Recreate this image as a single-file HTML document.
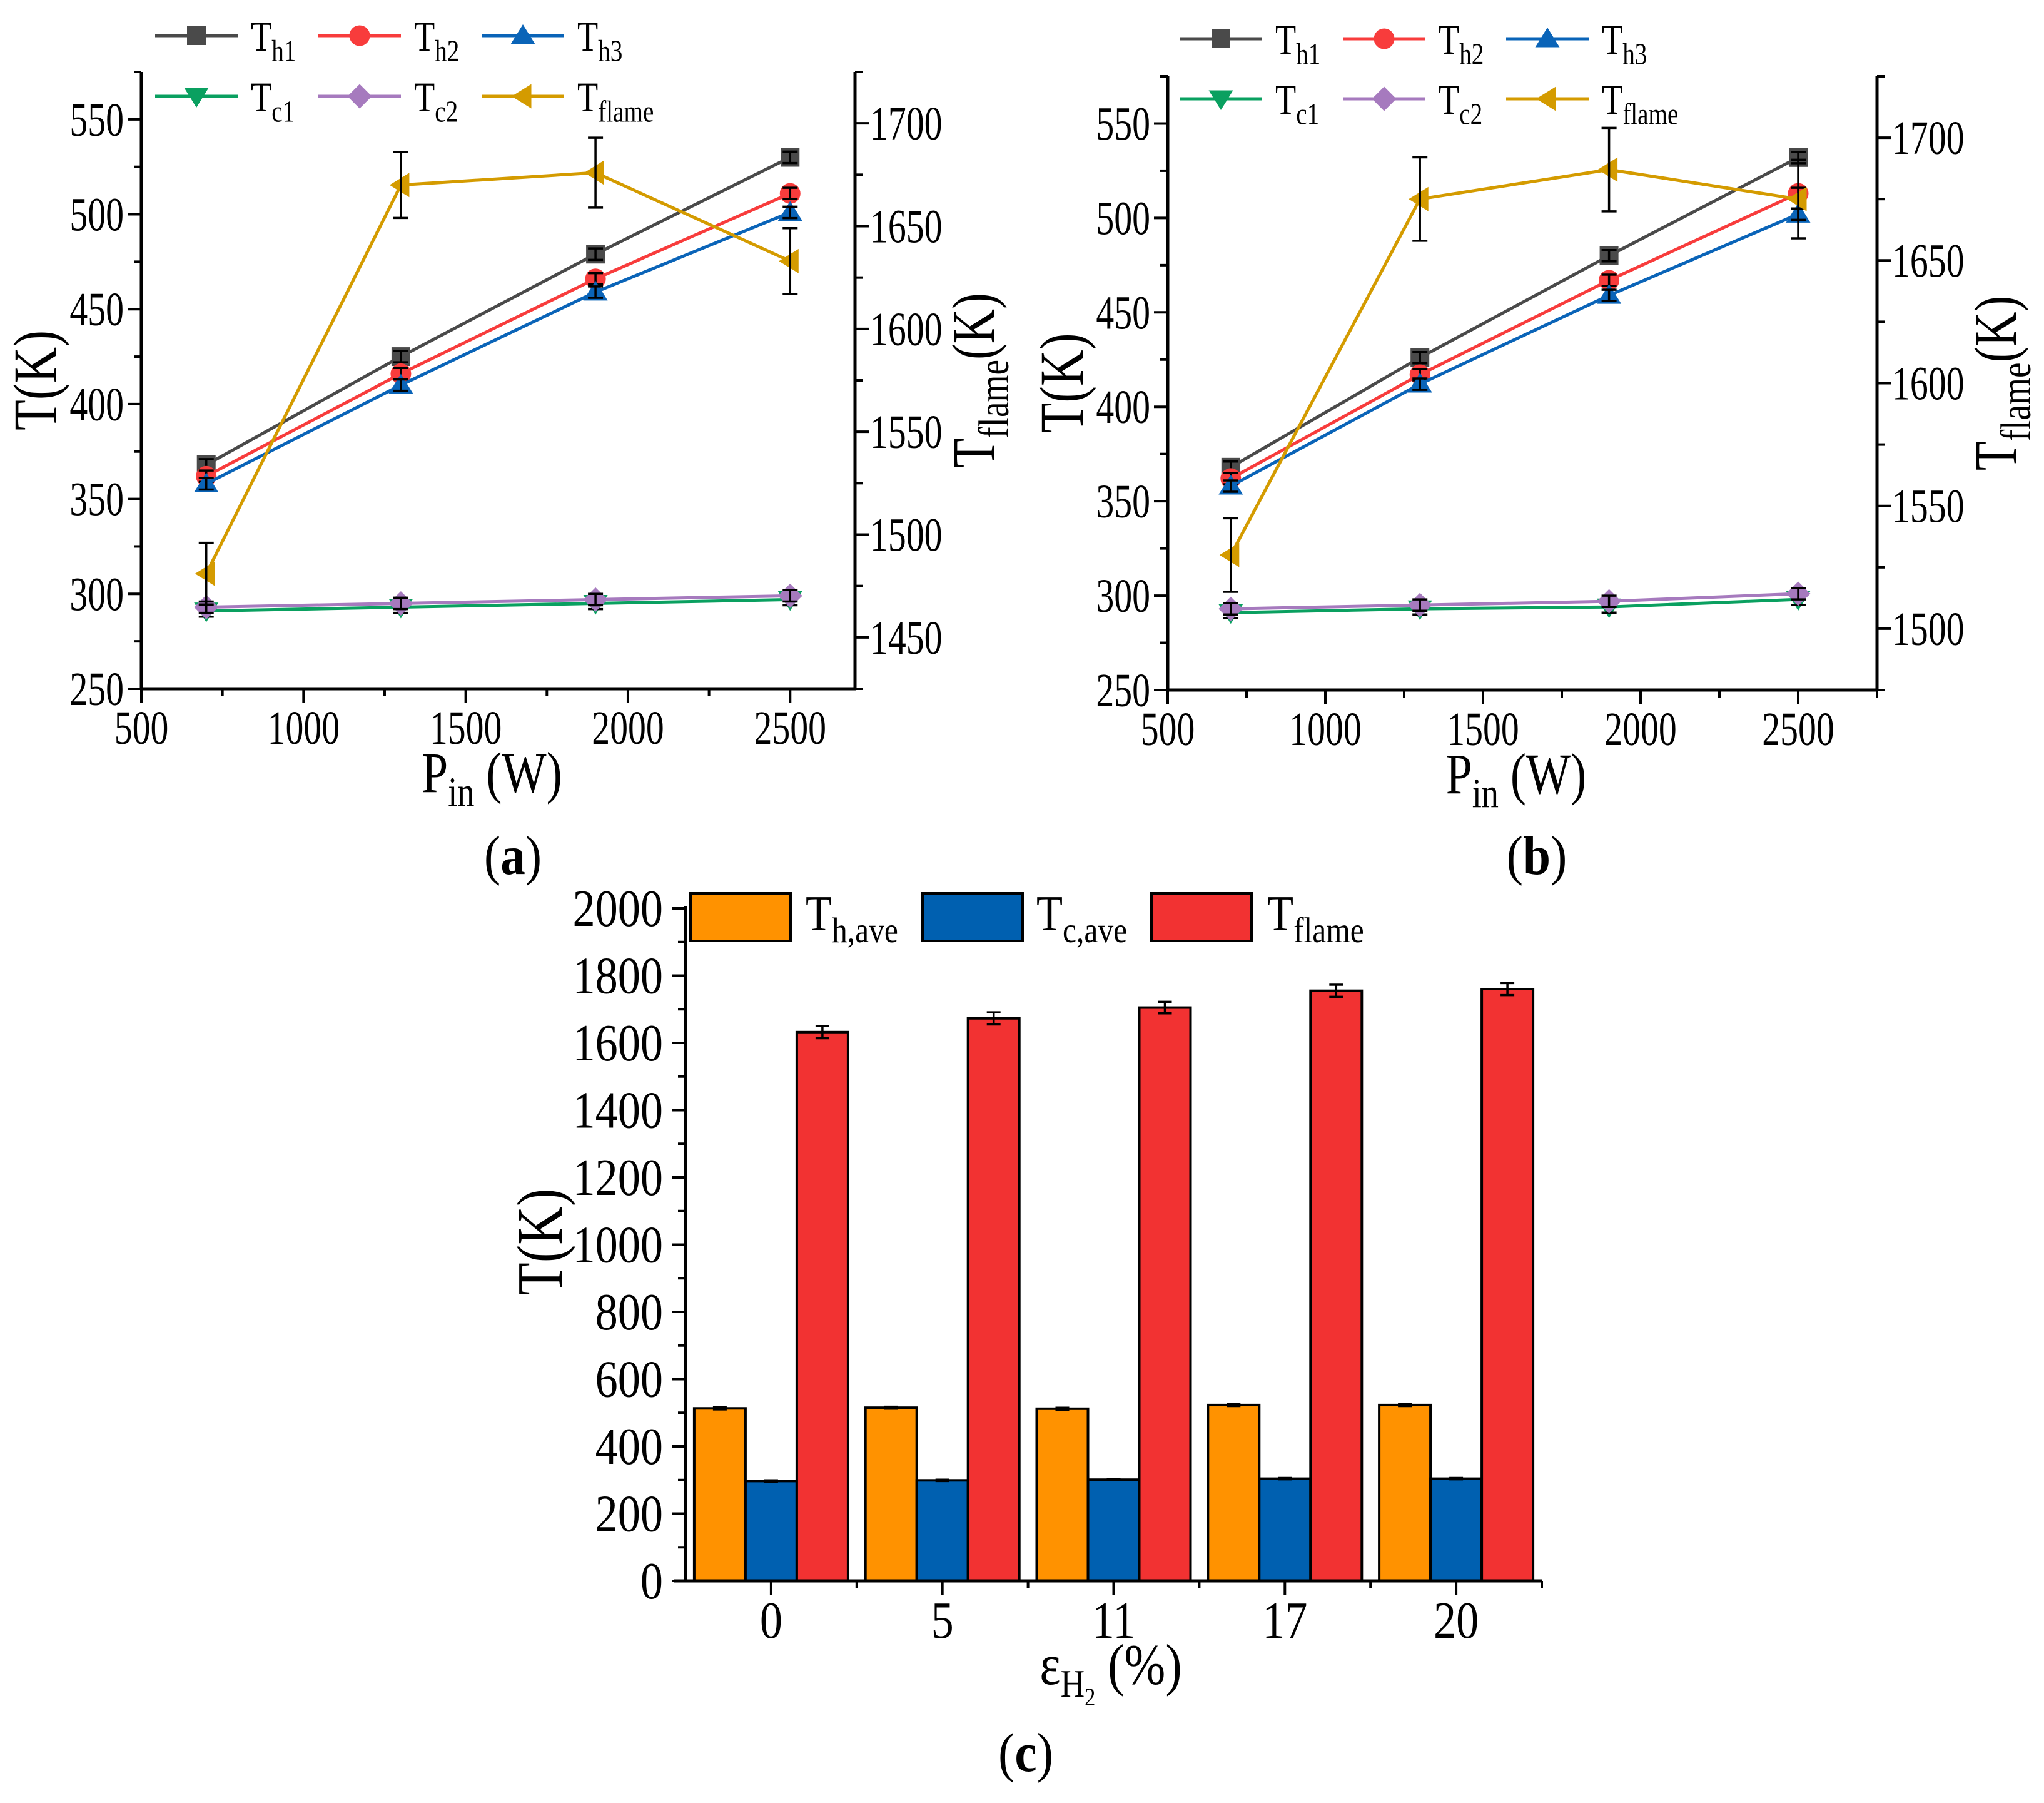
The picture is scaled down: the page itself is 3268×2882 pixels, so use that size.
<!DOCTYPE html>
<html><head><meta charset="utf-8"><style>
html,body{margin:0;padding:0;background:#fff}
svg{display:block}
text{font-family:"Liberation Serif","Times New Roman",serif;fill:#000}
</style></head><body>
<svg id="fig" xmlns="http://www.w3.org/2000/svg" width="3268" height="2882" viewBox="0 0 3268 2882">
<rect width="3268" height="2882" fill="#fff"/>
</svg>
<script>
// ---------- data ----------
const pIn = [700, 1300, 1900, 2500];
const aTh1 = [368, 425, 479, 530];
const aTh2 = [362, 416, 466, 511];
const aTh3 = [358, 410, 459, 501];
const aTc1 = [291, 293, 295, 297];
const aTc2 = [293, 295, 297, 299];
const aTflame = [1481, 1670, 1676, 1633];
const aTflameErr = [15, 16, 17, 16];
const bTh1 = [368, 426, 480, 532];
const bTh2 = [362, 417, 467, 513];
const bTh3 = [358, 412, 459, 502];
const bTc1 = [291, 293, 294, 298];
const bTc2 = [293, 295, 297, 301];
const bTflame = [1530, 1675, 1687, 1675];
const bTflameErr = [15, 17, 17, 16];
const smallErr = [3, 3, 3, 3];
const leftTicks = [250, 300, 350, 400, 450, 500, 550];
const xTicks = [500, 1000, 1500, 2000, 2500];
const aRightTicks = [1450, 1500, 1550, 1600, 1650, 1700];
const bRightTicks = [1500, 1550, 1600, 1650, 1700];
const cCats = ['0', '5', '11', '17', '20'];
const cTh = [513, 515, 512, 523, 523];
const cTc = [297, 299, 301, 304, 304];
const cTflame = [1632, 1673, 1705, 1755, 1760];
const cThErr = [3, 3, 3, 3, 3];
const cTcErr = [2, 2, 2, 2, 2];
const cTflameErr = [18, 18, 17, 18, 18];
const cTicks = [0, 200, 400, 600, 800, 1000, 1200, 1400, 1600, 1800, 2000];

const NS = 'http://www.w3.org/2000/svg';
const svg = document.getElementById('fig');
function el(tag, attrs, parent) {
  const e = document.createElementNS(NS, tag);
  for (const k in attrs) e.setAttribute(k, attrs[k]);
  (parent || svg).appendChild(e);
  return e;
}
function line(g, x1, y1, x2, y2, stroke, w) {
  return el('line', {x1, y1, x2, y2, stroke, 'stroke-width': w}, g);
}
function txt(g, x, y, html, size, anchor, sx, rot, name) {
  const tr = 'translate(' + x + ',' + y + ')' + (rot ? ' rotate(' + rot + ')' : '') + ' scale(' + sx + ',1)';
  const t = el('text', {x: 0, y: 0, 'font-size': size, 'text-anchor': anchor, transform: tr}, g);
  t.innerHTML = html;
  
  
  return t;
}
function sub(main, s, size) {
  return main + '<tspan font-size="' + (size * 0.72) + '" dy="' + (size * 0.24) + '">' + s + '</tspan>';
}
function marker(g, type, cx, cy, color, r) {
  let e;
  if (type === 'square') e = el('rect', {x: cx - r, y: cy - r, width: 2 * r, height: 2 * r, fill: color}, g);
  else if (type === 'circle') e = el('circle', {cx, cy, r: r * 1.1, fill: color}, g);
  else if (type === 'up') e = el('polygon', {points: [cx, cy - r * 1.2, cx + r * 1.3, cy + r * 0.9, cx - r * 1.3, cy + r * 0.9].join(' '), fill: color}, g);
  else if (type === 'down') e = el('polygon', {points: [cx, cy + r * 1.2, cx + r * 1.3, cy - r * 0.9, cx - r * 1.3, cy - r * 0.9].join(' '), fill: color}, g);
  else if (type === 'diamond') e = el('polygon', {points: [cx, cy - r * 1.3, cx + r * 1.3, cy, cx, cy + r * 1.3, cx - r * 1.3, cy].join(' '), fill: color}, g);
  else e = el('polygon', {points: [cx - r * 1.2, cy, cx + r * 0.9, cy - r * 1.3, cx + r * 0.9, cy + r * 1.3].join(' '), fill: color}, g);
  return e;
}

// ---------- line panels ----------
function panel(cfg) {
  const g = el('g', {});
  
  
  const X = v => cfg.x0 + (v - 500) / (cfg.xmax - 500) * (cfg.x1 - cfg.x0);
  const Y = v => cfg.y1 - (v - 250) / (575 - 250) * (cfg.y1 - cfg.y0);
  const R = v => cfg.y1 - (v - cfg.rmin) / (cfg.rmax - cfg.rmin) * (cfg.y1 - cfg.y0);
  const TF = 76, SX = 0.76;
  const ax = el('g', {}, g);
  
  
  line(ax, cfg.x0, cfg.y0, cfg.x0, cfg.y1 + 2, '#000', 5);
  line(ax, cfg.x1, cfg.y0, cfg.x1, cfg.y1 + 2, '#000', 5);
  line(ax, cfg.x0 - 2, cfg.y1, cfg.x1 + 2, cfg.y1, '#000', 5);
  for (let v = 250; v <= 575; v += 25) {
    const maj = v % 50 === 0;
    line(ax, cfg.x0, Y(v), cfg.x0 - (maj ? 22 : 12), Y(v), '#000', 4);
  }
  leftTicks.forEach(v => txt(ax, cfg.x0 - 28, Y(v) + 26, String(v), TF, 'end', SX, 0, 'y-tick-label'));
  for (let v = 500; v <= cfg.xmax; v += 250) {
    const maj = v % 500 === 0;
    line(ax, X(v), cfg.y1, X(v), cfg.y1 + (maj ? 22 : 12), '#000', 4);
  }
  xTicks.forEach(v => txt(ax, X(v), cfg.y1 + 88, String(v), TF, 'middle', SX, 0, 'x-tick-label'));
  for (let v = cfg.rmin; v <= cfg.rmax; v += 25) {
    const maj = v % 50 === 0;
    line(ax, cfg.x1, R(v), cfg.x1 + (maj ? 22 : 12), R(v), '#000', 4);
  }
  cfg.rticks.forEach(v => txt(ax, cfg.x1 + 24, R(v) + 26, String(v), TF, 'start', SX, 0, 'y2-tick-label'));
  txt(g, cfg.x0 - 136, (cfg.y0 + cfg.y1) / 2, 'T(K)', 100, 'middle', 0.8, -90, 'y-axis-title');
  txt(g, cfg.x1 + 222, (cfg.y0 + cfg.y1) / 2, sub('T', 'flame', 96) + '<tspan dy="' + (-96 * 0.24) + '">(K)</tspan>', 96, 'middle', 0.8, -90, 'y2-axis-title');
  txt(g, (cfg.x0 + cfg.x1) / 2 - 10, cfg.y1 + 165, sub('P', 'in', 92) + '<tspan dy="' + (-92 * 0.24) + '"> (W)</tspan>', 92, 'middle', 0.82, 0, 'x-axis-title');
  txt(g, cfg.labelX, cfg.labelY, '(<tspan font-weight="bold">' + cfg.label + '</tspan>)', 88, 'middle', 0.9, 0, 'panel-label');

  const series = cfg.series;
  series.forEach(s => {
    const sg = el('g', {}, g);
    
    
    const ys = s.right ? R : Y;
    const pts = pIn.map((p, i) => X(p) + ',' + ys(s.vals[i])).join(' ');
    el('polyline', {points: pts, fill: 'none', stroke: s.color, 'stroke-width': 5, 'stroke-linejoin': 'round'}, sg);
    pIn.forEach((p, i) => {
      const m = marker(sg, s.mk, X(p), ys(s.vals[i]), s.color, 15);
      
      
    });
    pIn.forEach((p, i) => {
      const e = s.err[i];
      const yt = ys(s.vals[i] + e), yb = ys(s.vals[i] - e), x = X(p);
      line(sg, x, yt, x, yb, '#000', 3.5);
      line(sg, x - 12, yt, x + 12, yt, '#000', 3.5);
      line(sg, x - 12, yb, x + 12, yb, '#000', 3.5);
    });
  });
  const lg = el('g', {}, g);
  
  
  series.forEach((s, i) => {
    const eg = el('g', {}, lg);
    
    
    const col = i % 3, row = Math.floor(i / 3);
    const lx = cfg.legX + col * 261, ly = cfg.legRows[row];
    line(eg, lx, ly, lx + 132, ly, s.color, 5);
    marker(eg, s.mk, lx + 66, ly, s.color, 15);
    txt(eg, lx + 153, ly + 24, sub('T', s.sub, 68), 68, 'start', 0.8, 0, 'legend-label');
  });
}
function mkSeries(th1, th2, th3, tc1, tc2, tf, tfErr) {
  return [
    {name: 'series-th1', sub: 'h1', vals: th1, err: smallErr, color: '#4a4a4a', mk: 'square'},
    {name: 'series-th2', sub: 'h2', vals: th2, err: smallErr, color: '#f83c3c', mk: 'circle'},
    {name: 'series-th3', sub: 'h3', vals: th3, err: smallErr, color: '#0a64b8', mk: 'up'},
    {name: 'series-tc1', sub: 'c1', vals: tc1, err: smallErr, color: '#0aa060', mk: 'down'},
    {name: 'series-tc2', sub: 'c2', vals: tc2, err: smallErr, color: '#a67abe', mk: 'diamond'},
    {name: 'series-tflame', sub: 'flame', vals: tf, err: tfErr, color: '#d49b00', mk: 'left', right: true}
  ];
}
panel({name: 'chart-a', x0: 226, x1: 1367, xmax: 2700, y0: 115, y1: 1101, rmin: 1425, rmax: 1725, rticks: aRightTicks,
  legX: 248, legRows: [57, 154], label: 'a', labelX: 820, labelY: 1397,
  series: mkSeries(aTh1, aTh2, aTh3, aTc1, aTc2, aTflame, aTflameErr)});
panel({name: 'chart-b', x0: 1867, x1: 3001, xmax: 2750, y0: 122, y1: 1103, rmin: 1475, rmax: 1725, rticks: bRightTicks,
  legX: 1886, legRows: [62, 158], label: 'b', labelX: 2457, labelY: 1397,
  series: mkSeries(bTh1, bTh2, bTh3, bTc1, bTc2, bTflame, bTflameErr)});

// ---------- bar panel (c) ----------
(function () {
  const g = el('g', {});
  
  
  const x0 = 1096, x1 = 2465, y1 = 2527, y0 = 1452;
  const Y = v => y1 - v / 2000 * (y1 - y0);
  const step = (x1 - x0) / cCats.length;
  const CX = i => x0 + step * (i + 0.5);
  const bw = 82;
  const sets = [
    {name: 'bars-th-ave', vals: cTh, err: cThErr, color: '#ff9200', off: -1},
    {name: 'bars-tc-ave', vals: cTc, err: cTcErr, color: '#0060b0', off: 0},
    {name: 'bars-tflame', vals: cTflame, err: cTflameErr, color: '#f23232', off: 1}
  ];
  sets.forEach(s => {
    const sg = el('g', {}, g);
    
    
    s.vals.forEach((v, i) => {
      const xl = CX(i) + s.off * bw - bw / 2;
      const r = el('rect', {x: xl, y: Y(v), width: bw, height: y1 - Y(v), fill: s.color, stroke: '#000', 'stroke-width': 4}, sg);
      
      
      const xc = xl + bw / 2, yt = Y(v + s.err[i]), yb = Y(v - s.err[i]);
      line(sg, xc, yt, xc, yb, '#000', 3.5);
      line(sg, xc - 11, yt, xc + 11, yt, '#000', 3.5);
      line(sg, xc - 11, yb, xc + 11, yb, '#000', 3.5);
    });
  });
  const ax = el('g', {}, g);
  
  
  line(ax, x0, y0 - 4, x0, y1, '#000', 5);
  line(ax, 1077, y1, x1, y1, '#000', 5);
  for (let v = 0; v <= 2000; v += 100) {
    const maj = v % 200 === 0;
    line(ax, x0, Y(v), x0 - (maj ? 22 : 12), Y(v), '#000', 4);
  }
  cTicks.forEach(v => txt(ax, 1060, Y(v) + 28, String(v), 84, 'end', 0.86, 0, 'y-tick-label'));
  cCats.forEach((c, i) => {
    line(ax, CX(i), y1, CX(i), y1 + 22, '#000', 4);
    line(ax, x0 + step * (i + 1), y1, x0 + step * (i + 1), y1 + 12, '#000', 4);
    txt(ax, CX(i), 2618, c, 84, 'middle', 0.86, 0, 'x-tick-label');
  });
  txt(g, 898, 1985, 'T(K)', 104, 'middle', 0.82, -90, 'y-axis-title');
  txt(g, 1776, 2692, 'ε<tspan font-size="62" dy="20">H</tspan><tspan font-size="40" dy="14">2</tspan><tspan dy="-34"> (%)</tspan>', 92, 'middle', 0.86, 0, 'x-axis-title');
  txt(g, 1640, 2831, '(<tspan font-weight="bold">c</tspan>)', 88, 'middle', 0.9, 0, 'panel-label');
  const lg = el('g', {}, g);
  
  
  const leg = [['#ff9200', 1104, 1288, 'h,ave'], ['#0060b0', 1475, 1657, 'c,ave'], ['#f23232', 1841, 2026, 'flame']];
  leg.forEach(l => {
    const eg = el('g', {}, lg);
    
    
    el('rect', {x: l[1], y: 1428, width: 160, height: 76, fill: l[0], stroke: '#000', 'stroke-width': 4}, eg);
    txt(eg, l[2], 1487, sub('T', l[3], 80), 80, 'start', 0.86, 0, 'legend-label');
  });
})();
</script>
</body></html>
